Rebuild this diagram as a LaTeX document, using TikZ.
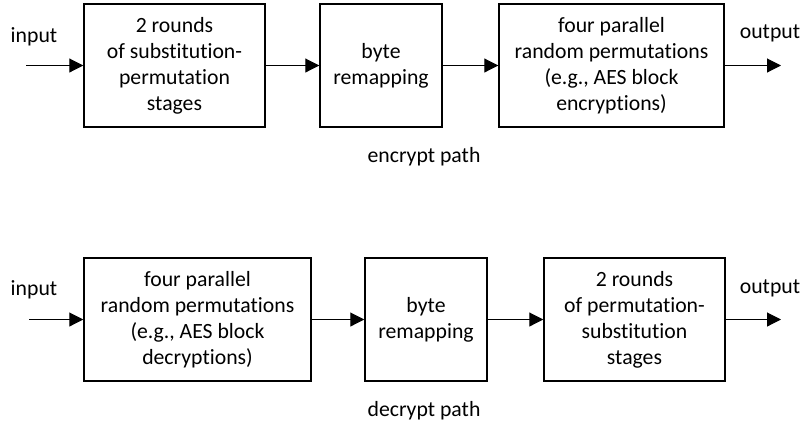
\documentclass[tikz,border=0pt]{standalone}
\usepackage{fontspec}
\setmainfont{Carlito}[Ligatures=NoCommon]
\usetikzlibrary{
arrows.meta,
calc,
positioning,
}

\begin{document}
\begin{tikzpicture}[x=0.75pt,y=-0.75pt,
		box/.style={draw, line width=1.1pt, align=center, minimum height=92pt, inner sep=0pt},
		flow/.style={line width=0.8pt, -{Triangle[length=10.5pt,width=10.5pt]}},
		lbl/.style={inner sep=0pt},
		font=\fontsize{16.3}{19.5}\selectfont]
		\useasboundingbox (0,0) rectangle (802,426);

		% encrypt path
		\node [box, minimum width=135.75pt] (E1) at (174.5,65.5) {2 rounds\\of substitution-\\permutation\\stages};
		\node [box, minimum width=91.5pt] (E2) at (381,65.5) {byte\\remapping};
		\node [box, minimum width=168.75pt] (E3) at (611.5,65.5) {four parallel\\random permutations\\(e.g., AES block\\encryptions)};
		\coordinate (Ein) at (26,65.5);
		\coordinate (Eout) at (781,65.5);
		\node [lbl] (Einl) at (34,37) {input};
		\node [lbl] (Eoutl) at (770,33) {output};
		\node [lbl] (Ename) at (424,157) {encrypt path};

		\draw [flow] (Ein) -- (E1);
		\draw [flow] (E1) -- (E2);
		\draw [flow] (E2) -- (E3);
		\draw [flow] (E3) -- (Eout);

		% decrypt path
		\node [box, minimum width=170.25pt] (D1) at (197.5,319.5) {four parallel\\random permutations\\(e.g., AES block\\decryptions)};
		\node [box, minimum width=91.5pt] (D2) at (426,319.5) {byte\\remapping};
		\node [box, minimum width=135.75pt] (D3) at (634.5,319.5) {2 rounds\\of permutation-\\substitution\\stages};
		\coordinate (Din) at (29,319.5);
		\coordinate (Dout) at (781,319.5);
		\node [lbl] (Dinl) at (34,290) {input};
		\node [lbl] (Doutl) at (770,288) {output};
		\node [lbl] (Dname) at (424,411) {decrypt path};

		\draw [flow] (Din) -- (D1);
		\draw [flow] (D1) -- (D2);
		\draw [flow] (D2) -- (D3);
		\draw [flow] (D3) -- (Dout);
	\end{tikzpicture}
\end{document}
